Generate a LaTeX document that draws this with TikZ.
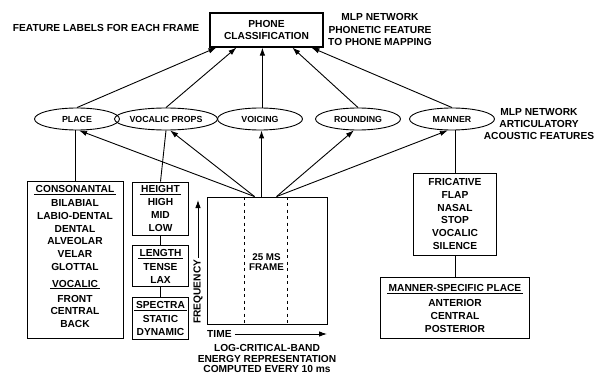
\documentclass[tikz,border=0pt]{standalone}
\usepackage{fontspec}
\setmainfont{Liberation Sans}
\usetikzlibrary{arrows.meta,positioning,shapes.geometric}
\newcommand{\hd}[1]{\underline{\,#1\,}}
\tikzset{
    %Define standard arrow tip
    >={Latex[length=8pt,width=5.5pt]},
    %Define style for feature boxes
    featbox/.style={
           rectangle,
           draw=black, line width=0.9pt,
           inner sep=0pt,
           align=center,
           font=\bfseries\fontsize{10.2}{12.7}\selectfont},
    %Define style for networks
    net/.style={
           ellipse,
           draw=black, line width=0.9pt,
           minimum width=85, minimum height=22,
           inner sep=0pt,
           font=\bfseries\fontsize{8.8}{10}\selectfont},
    annote/.style={
           align=center, inner sep=0pt,
           font=\bfseries\fontsize{10.2}{12.5}\selectfont},
    % Define arrow style
    arrow/.style={
           ->,
           line width=0.9pt},
    link/.style={line width=0.9pt},
    frameline/.style={line width=0.9pt, dash pattern=on 3pt off 3.5pt},
}
\begin{document}
\begin{tikzpicture}[x=1pt,y=-1pt]
  \useasboundingbox (0,0) rectangle (596,374);
  \node[featbox, line width=1.2pt, minimum width=113, minimum height=34] (phone) at (266.5,30) {PHONE\\CLASSIFICATION};
  \node[annote] (labels) at (106,28) {FEATURE LABELS FOR EACH FRAME};
  \node[annote] (mlptop) at (380,29.5) {MLP NETWORK\\PHONETIC FEATURE\\TO PHONE MAPPING};

  \node[net] (place) at (77,119) {PLACE};
  \node[net, minimum width=90] (vprops) at (166,119) {VOCALIC PROPS};
  \node[net] (voicing) at (260,119) {VOICING};
  \node[net] (rounding) at (358,119) {ROUNDING};
  \node[net] (manner) at (452,119) {MANNER};
  \node[annote, font=\bfseries\fontsize{10.2}{12}\selectfont] (mlpmid) at (539,124) {MLP NETWORK\\ARTICULATORY\\ACOUSTIC FEATURES};

  \node[draw, line width=0.9pt, minimum width=120, minimum height=127, inner sep=0pt] (spec) at (267,260.5) {};
  \draw[frameline] ([xshift=38pt]spec.north west) -- ([xshift=38pt]spec.south west);
  \draw[frameline] ([xshift=81pt]spec.north west) -- ([xshift=81pt]spec.south west);
  \node[annote, font=\bfseries\fontsize{9.8}{10}\selectfont] (frame) at (266.5,262) {25 MS\\FRAME};

  \node[annote, rotate=90, anchor=west] (freq) at (198,324) {FREQUENCY};
  \coordinate (ftop) at (198,200);
  \node[annote, anchor=west] (time) at (207,334) {TIME};
  \coordinate (tend) at (327,334);
  \draw[arrow, shorten <=2pt] (freq.east) -- (ftop);
  \draw[arrow, shorten <=3pt] (time.east) -- (tend);
  \node[annote, font=\bfseries\fontsize{10.2}{10.8}\selectfont] (caption) at (267,358.5) {LOG-CRITICAL-BAND\\ENERGY REPRESENTATION\\COMPUTED EVERY 10 ms};

  \node[featbox, minimum width=96, minimum height=157] (cons) at (75,259.5) {\hd{CONSONANTAL}\\[1.3pt] BILABIAL\\LABIO-DENTAL\\DENTAL\\ALVEOLAR\\VELAR\\GLOTTAL\\[4.3pt] \hd{VOCALIC}\\[2.3pt] FRONT\\CENTRAL\\BACK\\[-6.7pt]\mbox{}};
  \node[featbox, minimum width=56, minimum height=53] (height) at (160.5,208.5) {\hd{HEIGHT}\\[0.4pt] HIGH\\MID\\LOW};
  \node[featbox, minimum width=56, minimum height=41, below=10pt of height] (length) {\hd{LENGTH}\\[1.3pt] TENSE\\LAX};
  \node[featbox, minimum width=56, minimum height=42, below=10pt of length] (spectra) {\hd{SPECTRA}\\[1.3pt] STATIC\\DYNAMIC};
  \node[featbox, minimum width=83, minimum height=82] (fric) at (455,214) {FRICATIVE\\FLAP\\NASAL\\STOP\\VOCALIC\\SILENCE};
  \node[featbox, minimum width=149, minimum height=61, below=22pt of fric] (msp) {\hd{MANNER-SPECIFIC PLACE}\\[2.3pt] ANTERIOR\\CENTRAL\\POSTERIOR};

  \draw[link] (cons.north) -- (cons.north |- place.south);
  \draw[link] (vprops.south) -- (height.north);
  \draw[link] (height) -- (length);
  \draw[link] (length) -- (spectra);
  \draw[link] (fric.north) -- (fric.north |- manner.south);
  \draw[link] (fric) -- (msp);

  \coordinate (s1) at ([xshift=48pt]spec.north west);
  \coordinate (s2) at ([xshift=55pt]spec.north west);
  \coordinate (s3) at ([xshift=70pt]spec.north west);
  \path (s1) edge[arrow] (place.-80);
  \path (s1) edge[arrow] (vprops.-70);
  \path (s2) edge[arrow] (s2 |- voicing.south);
  \path (s3) edge[arrow] (rounding.-110);
  \path (s3) edge[arrow] (manner.-110);

  \coordinate (p3) at ([xshift=53pt]phone.south west);
  \path (place.north) edge[arrow] ([xshift=7pt]phone.south west);
  \path (vprops.north) edge[arrow] ([xshift=27pt]phone.south west);
  \path (p3 |- voicing.north) edge[arrow] (p3);
  \path (rounding.north) edge[arrow] ([xshift=83pt]phone.south west);
  \path (manner.north) edge[arrow] ([xshift=102pt]phone.south west);
\end{tikzpicture}
\end{document}
